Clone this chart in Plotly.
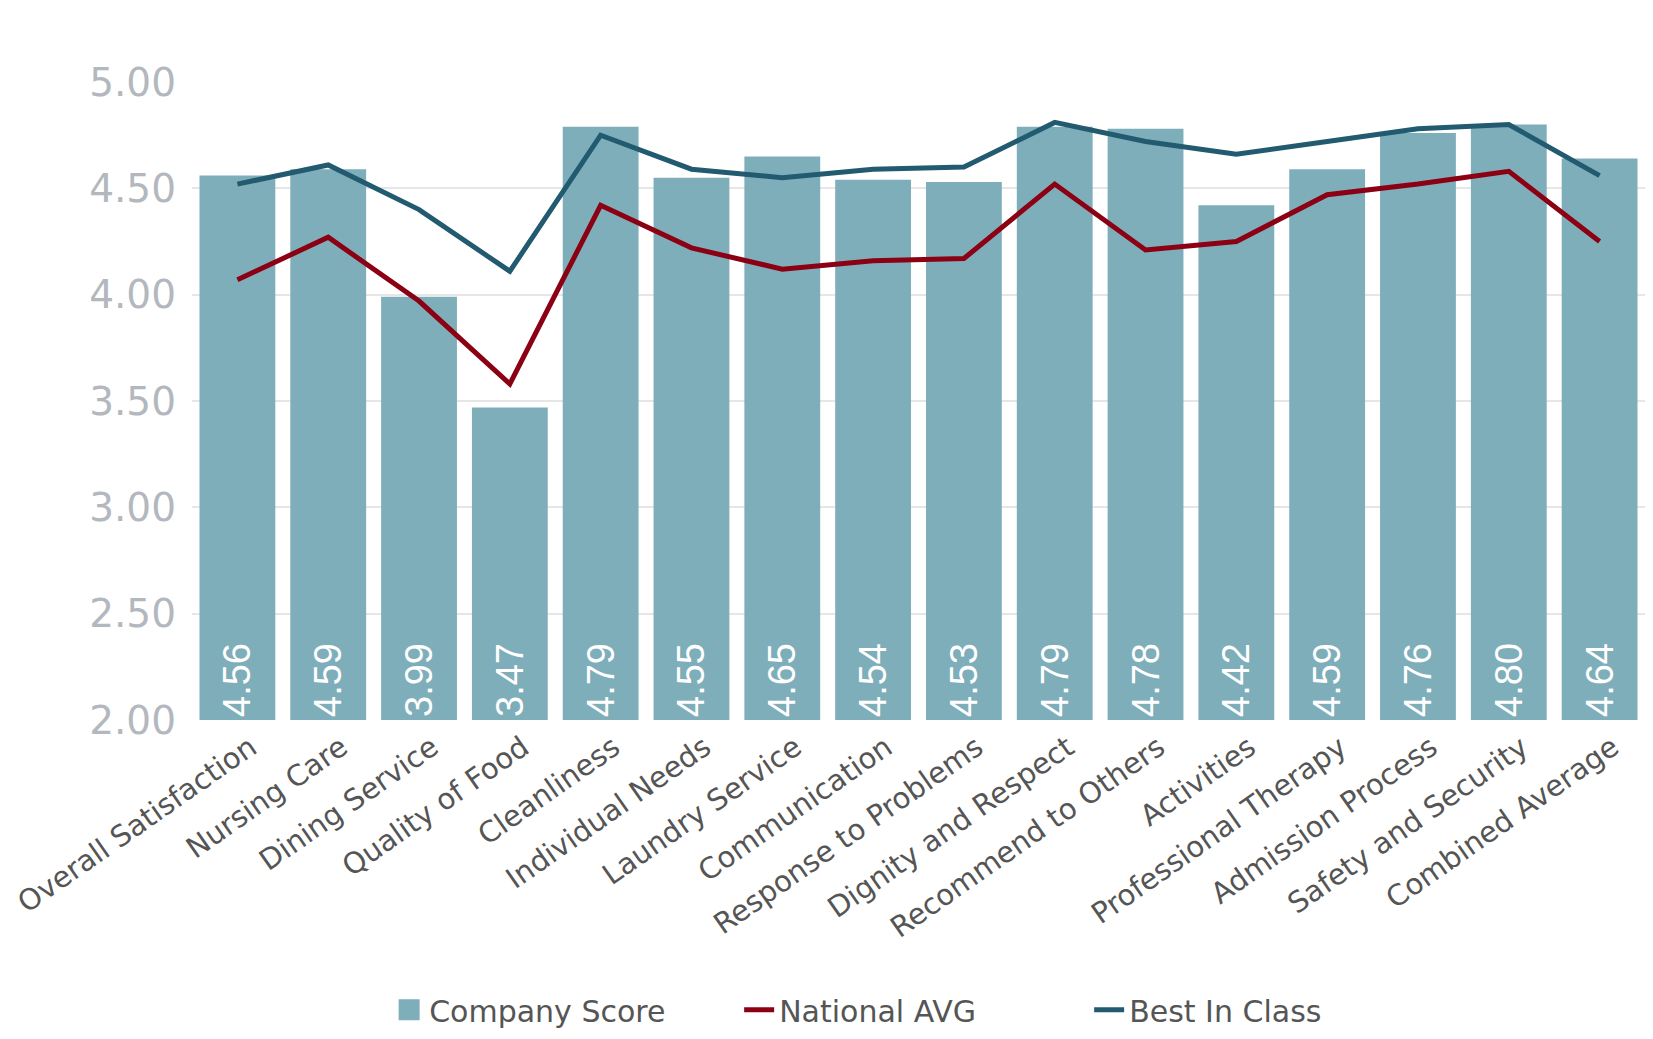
import plotly.graph_objects as go

categories = ["Overall Satisfaction", "Nursing Care", "Dining Service", "Quality of Food",
              "Cleanliness", "Individual Needs", "Laundry Service", "Communication",
              "Response to Problems", "Dignity and Respect", "Recommend to Others",
              "Activities", "Professional Therapy", "Admission Process",
              "Safety and Security", "Combined Average"]
company_score = [4.56, 4.59, 3.99, 3.47, 4.79, 4.55, 4.65, 4.54, 4.53, 4.79, 4.78, 4.42, 4.59, 4.76, 4.80, 4.64]
national_avg = [4.07, 4.27, 3.97, 3.58, 4.42, 4.22, 4.12, 4.16, 4.17, 4.52, 4.21, 4.25, 4.47, 4.52, 4.58, 4.25]
best_in_class = [4.52, 4.61, 4.40, 4.11, 4.75, 4.59, 4.55, 4.59, 4.60, 4.81, 4.72, 4.66, 4.72, 4.78, 4.80, 4.56]
y_ticks = [2.0, 2.5, 3.0, 3.5, 4.0, 4.5, 5.0]

axis_min = y_ticks[0]
bar_color = "#7faebb"

fig = go.Figure()
fig.add_trace(go.Bar(
    x=categories, y=[v - axis_min for v in company_score], base=axis_min,
    name="Company Score", showlegend=False,
    marker=dict(color=bar_color, line=dict(width=0)),
    text=[f"{v:.2f}" for v in company_score],
    textposition="inside", insidetextanchor="start", textangle=-90,
    textfont=dict(family="Liberation Sans Narrow, sans-serif", size=38, color="white"),
    hovertemplate="%{x}: %{text}<extra></extra>",
))
# legend entry for the bars with a larger square swatch
fig.add_trace(go.Scatter(
    x=[None], y=[None], name="Company Score", mode="markers",
    marker=dict(symbol="square", size=16, color=bar_color, line=dict(color=bar_color, width=5)),
))
fig.add_trace(go.Scatter(
    x=categories, y=national_avg, name="National AVG", mode="lines",
    line=dict(color="#8c0014", width=5),
))
fig.add_trace(go.Scatter(
    x=categories, y=best_in_class, name="Best In Class", mode="lines",
    line=dict(color="#225a70", width=5),
))

fig.update_layout(
    width=1637, height=1023,
    margin=dict(l=184, r=0, t=74, b=311, autoexpand=False),
    paper_bgcolor="white", plot_bgcolor="white",
    bargap=0.165,
    font=dict(family="DejaVu Sans, sans-serif", color="#555555"),
    showlegend=True,
    legend=dict(orientation="h", x=0.497, xanchor="center", y=-0.495, yanchor="bottom",
                font=dict(size=30, color="#555555"), traceorder="normal",
                entrywidth=305, entrywidthmode="pixels"),
    xaxis=dict(tickangle=-35, tickfont=dict(size=29, color="#555555"),
               showgrid=False, showline=False, ticks="", automargin=False,
               ticklabelshift=13, ticklabelstandoff=4),
    yaxis=dict(range=[2, 5], tickvals=y_ticks, ticktext=[f"{v:.2f}" for v in y_ticks],
               tickfont=dict(size=39, color="#b3b7be"),
               showgrid=True, gridcolor="#e6e6e6", gridwidth=2,
               zeroline=False, showline=False, ticks="", ticklabelstandoff=15, automargin=False),
)

fig.write_html("out.html")
